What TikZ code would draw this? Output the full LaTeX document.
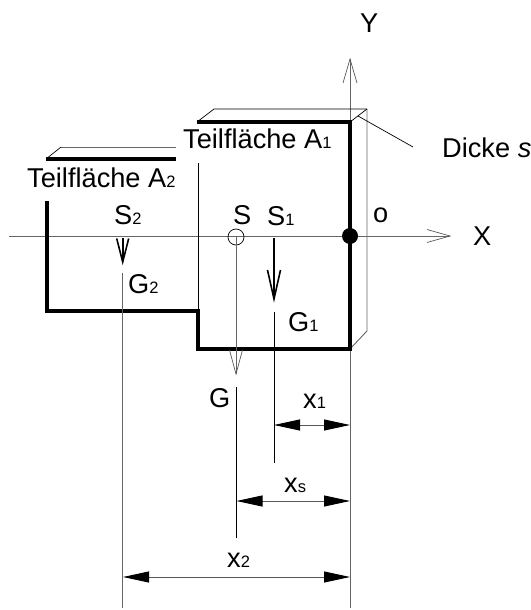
\documentclass[tikz,border=0pt]{standalone}
\usepackage{fontspec}
\setmainfont{Liberation Sans}
\usetikzlibrary{arrows.meta}
\tikzset{
  thinl/.style={line width=0.9pt,draw=black!60},
  darkl/.style={line width=0.9pt,draw=black},
  heavy/.style={line width=4pt,draw=black,line cap=butt,line join=miter},
  lbl/.style={anchor=base west,inner sep=0pt,font=\fontsize{27.2}{30}\selectfont,text=black},
  dimen/.style={line width=0.9pt,draw=black!65,{Triangle[length=26pt,width=11pt,black]}-{Triangle[length=26pt,width=11pt,black]}},
  openhead/.style={line width=0.7pt,draw=black!65,fill=none},
  vee/.style={line width=1.6pt,draw=black,line join=miter,fill=none}
}
\newcommand{\sbs}[1]{{\fontsize{16.5}{18}\selectfont #1}}
\begin{document}
\begin{tikzpicture}[x=1pt,y=-1pt]
\useasboundingbox (0,0) rectangle (530,610);
% axes
\draw[thinl] (9,236) -- (450,236);
\draw[openhead] (427,229.5) -- (450,236) -- (427,242.5);
\draw[thinl] (350,59) -- (350,608);
\draw[openhead] (343,83) -- (350,59) -- (357,83);
% thickness
\draw[darkl,line width=0.7pt] (197,122) -- (214,109) -- (367,109);
\draw[thinl] (367,109) -- (367,331) -- (350,349);
\draw[darkl,line width=0.7pt] (350,122) -- (367,109);
\draw[darkl,line width=0.7pt] (413,147) -- (358,116);
\draw[darkl,line width=0.7pt] (46,159) -- (61,147);
\draw[thinl] (61,147) -- (176,147);
% thick profile
\draw[heavy] (197,122) -- (350,122) -- (350,349) -- (198,349) -- (198,311) -- (47,311) -- (47,201);
\draw[heavy] (46,159) -- (176,159);
\fill (350,236) circle (8);
% thin verticals
\draw[darkl] (198,163) -- (198,311);
\draw[thinl] (122.7,273) -- (122.7,608);
\draw[darkl] (274,312) -- (274,463);
\draw[darkl] (236,387) -- (236,538);
% S
\draw[darkl,line width=0.7pt] (236,237) circle (8);
\draw[thinl] (236,237) -- (236,374);
\draw[openhead] (229.5,350) -- (236,374) -- (242.5,350);
% load arrows
\draw[line width=2pt] (122.7,238) -- (122.7,258);
\draw[vee] (116.7,238.5) -- (122.7,262) -- (128.7,238.5);
\draw[line width=2.6pt] (274,238) -- (274,296);
\draw[vee] (267.5,270) -- (274,299) -- (280.5,270);
% dimensions
\coordinate (r1) at (350,425); \coordinate (l1) at (274,425);
\coordinate (r2) at (350,501); \coordinate (l2) at (236.5,501);
\coordinate (r3) at (350,577); \coordinate (l3) at (123,577);
\draw[dimen] (l1) -- (r1);
\draw[dimen] (l2) -- (r2);
\draw[dimen] (l3) -- (r3);
% labels
\node[lbl] (tA1) at (183,148) {Teilfläche A\sbs{1}};
\node[lbl] (tA2) at (27,187) {Teilfläche A\sbs{2}};
\node[lbl] (tY) at (360,33) {Y};
\node[lbl] (tX) at (473,245) {X};
\node[lbl] (to) at (373,222) {o};
\node[lbl] (tD) at (442,157) {Dicke \textit{s}};
\node[lbl] (tS) at (233,224) {S};
\node[lbl] (tS1) at (267,225) {S\sbs{1}};
\node[lbl] (tS2) at (114,224) {S\sbs{2}};
\node[lbl] (tG) at (209,407) {G};
\node[lbl] (tG1) at (288,331) {G\sbs{1}};
\node[lbl] (tG2) at (128,293) {G\sbs{2}};
\node[lbl] (tx1) at (303,408) {x\sbs{1}};
\node[lbl] (txs) at (284,492) {x\sbs{s}};
\node[lbl] (tx2) at (227,567) {x\sbs{2}};
\end{tikzpicture}
\end{document}
